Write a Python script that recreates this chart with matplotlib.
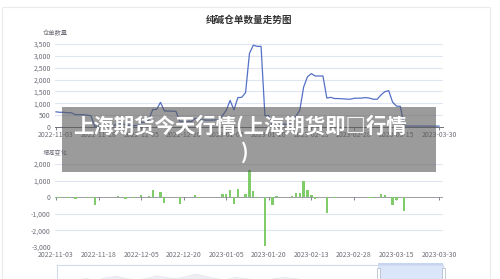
import matplotlib
matplotlib.use("Agg")
import matplotlib.pyplot as plt
import numpy as np
from matplotlib.patches import Rectangle

plt.rcParams['font.family'] = ['Noto Sans CJK SC', 'DejaVu Sans']

# 仓单数量 (100 个交易日, 2022-11-03 ~ 2023-03-30)
cangdan = [640, 620, 620, 600, 600, 520, 520, 520, 500, 480,
           30, 30, 30, 60, 60, 60, 160, 160, 80, 80,
           60, 60, 200, 200, 300, 740, 740, 1040, 680, 670,
           670, 660, 240, 240, 240, 240, 360, 300, 300, 290,
           290, 300, 300, 480, 700, 1120, 720, 1240, 1250, 1450,
           3100, 3450, 3400, 3400, 480, 480, 20, 80, 80, 120,
           120, 180, 450, 700, 1680, 2120, 2250, 2150, 2150, 2150,
           1220, 1250, 1200, 1200, 1190, 1180, 1170, 1210, 1215, 1220,
           1240, 1220, 1170, 1170, 1350, 1490, 1530, 1050, 880, 870,
           40, 40, 40, 40, 38, 38, 38, 38, 38, 38]

# 增减变化
change = [-20, -20, 0, -20, 0, -80, 0, 0, -20, -20,
          -450, 0, 0, 30, 0, 0, 100, 0, -80, 0,
          -20, 0, 140, 0, 100, 440, 0, 300, -360, -10,
          0, -10, -420, 0, 0, 0, 120, -60, 0, -10,
          0, 10, 0, 180, 220, 420, -400, 520, 10, 200,
          1650, 350, -50, 0, -2920, 0, -460, 60, 0, 40,
          0, 60, 270, 250, 980, 440, 130, -100, 0, 0,
          -930, 30, -50, 0, -10, -10, -10, 40, 5, 5,
          20, -20, -50, 0, 180, 140, 40, -480, -170, -10,
          -830, 0, 0, 0, -2, 0, 0, 0, 0, 0]

tick_labels = ['2022-11-03', '2022-11-18', '2022-12-05', '2022-12-20', '2023-01-05',
               '2023-01-20', '2023-02-13', '2023-02-28', '2023-03-15', '2023-03-30']
label_step = 11

top_ticks = [0, 500, 1000, 1500, 2000, 2500, 3000, 3500]
bottom_ticks = [-3000, -2000, -1000, 0, 1000, 2000]

# 缩略轴里的阴影 (相对高度)
slider_shadow = [0.35, 0.4, 0.45, 0.5, 0.42, 0.55, 0.6, 0.5, 0.45, 0.5,
                 0.62, 0.55, 0.5, 0.58, 0.7, 0.6, 0.5, 0.45, 0.55, 0.5,
                 0.45, 0.4, 0.5, 0.55, 0.5, 0.45, 0.4, 0.38, 0.42, 0.4,
                 0.35, 0.4, 0.38, 0.45, 0.4, 0.35, 0.4, 0.45, 0.35, 0.3]

W, H = 500, 279
GRID = '#e0e6f1'
TXT = '#6e7079'


def box(x0, y0, x1, y1):
    # 像素坐标 -> figure 坐标
    return [x0 / W, 1 - y1 / H, (x1 - x0) / W, (y1 - y0) / H]


fig = plt.figure(figsize=(5, 2.79), dpi=100)
fig.patch.set_facecolor('white')

# 外框
fig.patches.append(Rectangle((2 / W, -0.05), 488 / W, 1 - 7 / H + 0.05,
                             transform=fig.transFigure, fill=False,
                             edgecolor='#ebebeb', lw=0.8))

fig.text(249 / W, 1 - 19.5 / H, '纯碱仓单数量走势图', ha='center', va='center',
         fontsize=6.9, fontweight='bold', color='#333333')

x = np.arange(len(cangdan))
pos = np.arange(len(tick_labels)) * label_step
xlim = (-0.26, 100.03)

# ---- 上图: 仓单数量 ----
ax1 = fig.add_axes(box(55, 44, 443, 127))
ax1.plot(x, cangdan, color='#5470c6', lw=0.9, zorder=3)
ax1.set_xlim(*xlim)
ax1.set_ylim(0, 3500)
ax1.set_yticks(top_ticks)
ax1.set_yticklabels(['{:,}'.format(v) for v in top_ticks])
for v in top_ticks[1:]:
    ax1.axhline(v, color=GRID, lw=0.8, zorder=1)
ax1.set_xticks(pos)
ax1.set_xticklabels(tick_labels)
ax1.tick_params(axis='x', length=2, width=0.6, color=TXT, pad=0.8,
                labelsize=5, labelcolor=TXT)
ax1.tick_params(axis='y', length=0, pad=3, labelsize=5, labelcolor=TXT)
for s in ['top', 'right', 'left']:
    ax1.spines[s].set_visible(False)
ax1.spines['bottom'].set_color(TXT)
ax1.spines['bottom'].set_linewidth(0.7)
fig.text(55.5 / W, 1 - 33 / H, '仓单数量', ha='center', va='center',
         fontsize=4.5, color=TXT)

# ---- 下图: 增减变化 ----
ax2 = fig.add_axes(box(55, 164, 443, 247))
ax2.bar(x, change, width=0.6, color='#80cc6a', zorder=3)
ax2.set_xlim(*xlim)
ax2.set_ylim(-3000, 2000)
ax2.set_yticks(bottom_ticks)
ax2.set_yticklabels(['{:,}'.format(v) for v in bottom_ticks])
for v in bottom_ticks:
    if v != 0:
        ax2.axhline(v, color=GRID, lw=0.8, zorder=1)
ax2.axhline(0, color='#9a9ca3', lw=0.7, zorder=2)
ax2.plot(pos, [0] * len(pos), marker=3, ls='none', ms=2.5, mew=0.6,
         color=TXT, zorder=2)
ax2.set_xticks(pos)
ax2.set_xticklabels(tick_labels)
ax2.tick_params(axis='x', length=0, pad=3, labelsize=5, labelcolor=TXT)
ax2.tick_params(axis='y', length=0, pad=3, labelsize=5, labelcolor=TXT)
for s in ax2.spines.values():
    s.set_visible(False)
fig.text(55.5 / W, 1 - 153.5 / H, '增减变化', ha='center', va='center',
         fontsize=4.5, color=TXT)

# ---- 缩略轴 ----
ax3 = fig.add_axes(box(57, 265, 443, 290))
xs = np.linspace(0, 1, len(slider_shadow))
ax3.fill_between(xs, 0, slider_shadow, color='#eceef2', lw=0)
ax3.plot(xs, slider_shadow, color='#e2e5ea', lw=0.6)
ax3.set_xlim(0, 1)
ax3.set_ylim(0, 1.1)
ax3.axvspan(0.832, 1.0, color='#d3e0fb', alpha=0.8, lw=0)
ax3.set_xticks([])
ax3.set_yticks([])
for s in ax3.spines.values():
    s.set_color('#d2dbee')
    s.set_linewidth(0.8)
for hx in (378, 443):
    fig.patches.append(Rectangle(((hx - 1.5) / W, 1 - 279 / H), 3 / W, 11 / H,
                                 transform=fig.transFigure, facecolor='white',
                                 edgecolor='#a7b7cc', lw=0.5, zorder=5))
fig.patches.append(Rectangle((378 / W, 1 - 265 / H), 65 / W, 2.5 / H,
                             transform=fig.transFigure, facecolor='#c6d5f2',
                             lw=0, zorder=5))

# ---- 遮罩和标题文字 ----
fig.patches.append(Rectangle((62 / W, 1 - 172 / H), 374 / W, 65 / H,
                             transform=fig.transFigure, facecolor='#595959',
                             alpha=0.6, lw=0, zorder=10))
fig.text(239.5 / W, 1 - 125.5 / H, '上海期货今天行情(上海期货即□行情',
         ha='center', va='center', fontsize=14.7, fontweight='bold',
         color='white', zorder=11)
fig.text(245 / W, 1 - 152.5 / H, ')', ha='center', va='center',
         fontsize=14.7, fontweight='bold', color='white', zorder=11)

fig.savefig('out.png', dpi=100)
